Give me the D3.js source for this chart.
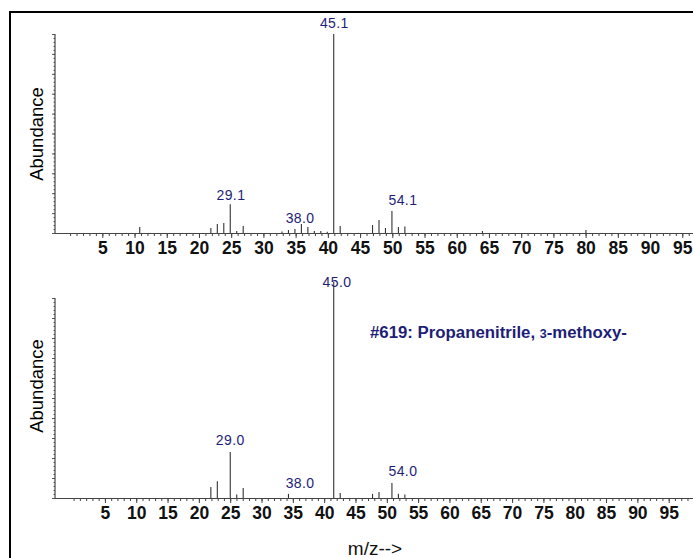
<!DOCTYPE html>
<html><head><meta charset="utf-8">
<script src="https://cdn.jsdelivr.net/npm/d3@7"></script>
<style>
html,body{margin:0;padding:0;background:#fff;overflow:hidden}
svg{display:block;font-family:"Liberation Sans",Arial,sans-serif}
</style></head>
<body>
<svg id="c" width="693" height="558"></svg>
<script>
// ---- data ----
const xTickLabels = [5,10,15,20,25,30,35,40,45,50,55,60,65,70,75,80,85,90,95];

const topMz    = [15, 26, 27, 28, 29, 30, 31, 37, 38, 39, 40, 41, 42, 43, 44, 45, 46, 51, 52, 53, 54, 55, 56, 68, 84];
const topAbund = [3, 2.5, 4.5, 5, 14.5, 1, 3.5, 0.8, 1.5, 2, 4.5, 3, 1, 1, 0.6, 100, 3.5, 4, 6.5, 2.5, 11, 3, 3.3, 1, 1.5];
const topLabels   = ["29.1", "45.1", "38.0", "54.1"];
const topLabelMz  = [29.1, 45.1, 39.8, 55.7];
const topLabelAb  = [16.5, 103, 4.8, 14];

const botMz    = [26, 27, 29, 30, 31, 38, 45, 46, 51, 52, 54, 55, 56];
const botAbund = [5.1, 7.7, 21.3, 1.6, 4.6, 1.9, 100, 2.3, 1.9, 2.8, 6.9, 2, 1.6];
const botLabels   = ["29.0", "45.0", "38.0", "54.0"];
const botLabelMz  = [29.0, 45.5, 39.8, 55.7];
const botLabelAb  = [24.5, 97.5, 4.6, 10.2];

const libTitle = "#619: Propanenitrile, ";
const libTitleNum = "3";
const libTitleEnd = "-methoxy-";
const xTitle = "m/z-->";
const yTitle = "Abundance";

// ---- drawing ----
const svg = d3.select("#c");
const navy = "#1e1e78";

// frame
svg.append("rect").attr("x",10).attr("y",12).attr("width",700).attr("height",560)
  .attr("fill","none").attr("stroke","#000").attr("stroke-width",2);

const x = d3.scaleLinear().domain([1.9, 100.4]).range([55, 692]);

function panel(cfg){
  const g = svg.append("g");
  const y = d3.scaleLinear().domain([0,100]).range([cfg.base, cfg.top]);
  const xl = d3.scaleLinear().domain([0,100]).range(cfg.labelRange);
  const yMax = cfg.axisMax;

  // y axis
  const ya = g.append("g").attr("transform",`translate(${x.range()[0]},0)`);
  ya.call(d3.axisLeft(y).tickValues(d3.range(0,yMax+0.01,yMax/50)).tickSize(1.5).tickFormat(""));
  ya.append("g").call(d3.axisLeft(y).tickValues(d3.range(0,yMax+0.01,yMax/10)).tickSize(3).tickFormat(""));
  ya.selectAll("path").remove();
  ya.selectAll("line").attr("stroke","#555");
  g.append("line").attr("x1",x.range()[0]).attr("x2",x.range()[0])
    .attr("y1",y(0)).attr("y2",y(yMax)).attr("stroke","#444").attr("stroke-width",1.2);

  // x axis
  const xa = g.append("g").attr("transform",`translate(0,${cfg.base})`);
  const minor = d3.range(0,101,1).filter(v=>xl(v)>=x.range()[0] && xl(v)<=693);
  xa.append("g").call(d3.axisBottom(xl).tickValues(minor).tickSize(3).tickFormat(""));
  xa.append("g").call(d3.axisBottom(xl).tickValues(xTickLabels).tickSize(5).tickPadding(4))
    .selectAll("text").attr("font-size",17.5).attr("font-weight","bold").attr("fill","#111");
  xa.selectAll("path").remove();
  xa.selectAll("line").attr("stroke","#444");
  g.append("line").attr("x1",x.range()[0]).attr("x2",693)
    .attr("y1",cfg.base+0.5).attr("y2",cfg.base+0.5).attr("stroke","#444").attr("stroke-width",1.2);

  // peaks
  g.selectAll(".pk").data(cfg.mz).join("line")
    .attr("x1",d=>x(d)).attr("x2",d=>x(d))
    .attr("y1",y(0)).attr("y2",(d,i)=>y(cfg.ab[i]))
    .attr("stroke","#333").attr("stroke-width",1.1);

  // peak labels
  g.selectAll(".pl").data(cfg.labels).join("text")
    .attr("x",(d,i)=>x(cfg.labelMz[i])).attr("y",(d,i)=>y(cfg.labelAb[i]))
    .attr("text-anchor","middle").attr("font-size",14).attr("letter-spacing",0.4)
    .attr("fill",navy).text(d=>d);

  // y title
  g.append("text").attr("transform",`translate(43,${cfg.yTitleY}) rotate(-90)`)
    .attr("text-anchor","middle").attr("font-size",18.5).attr("fill","#000").text(yTitle);
}

panel({base:233, top:34, axisMax:100, labelRange:[70.1,714.5], mz:topMz, ab:topAbund,
  labels:topLabels, labelMz:topLabelMz, labelAb:topLabelAb, yTitleY:134});
panel({base:498, top:282, axisMax:92.6, labelRange:[73.6,700], mz:botMz, ab:botAbund,
  labels:botLabels, labelMz:botLabelMz, labelAb:botLabelAb, yTitleY:386});

// library title
const t = svg.append("text").attr("x",370).attr("y",338).attr("font-weight","bold")
  .attr("fill",navy).attr("font-size",16.8);
t.append("tspan").text(libTitle);
t.append("tspan").attr("font-size",12.5).text(libTitleNum);
t.append("tspan").text(libTitleEnd);

svg.append("text").attr("x",375).attr("y",555).attr("text-anchor","middle")
  .attr("font-size",19).attr("fill","#111").text(xTitle);
</script>
</body></html>
